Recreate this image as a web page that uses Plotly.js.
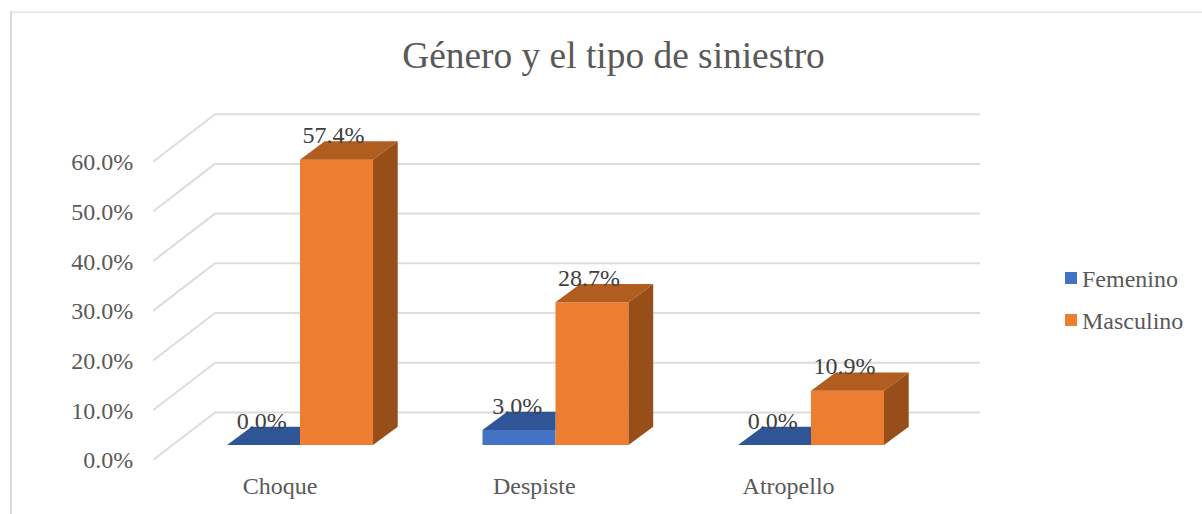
<!DOCTYPE html>
<html><head><meta charset="utf-8">
<script src="https://cdn.plot.ly/plotly-3.0.1.min.js"></script>
<style>html,body{margin:0;padding:0;background:#fff}#c{width:1202px;height:514px}
.legendsymbols{transform:translateX(9px)}</style>
</head><body><div id="c"></div>
<script>
const categories = ["Choque", "Despiste", "Atropello"];
const femenino = [0.0, 3.0, 0.0];
const masculino = [57.4, 28.7, 10.9];
const yTicks = [0, 10, 20, 30, 40, 50, 60];
const chartTitle = "Género y el tipo de siniestro";

// pseudo-3D geometry, in axis units
const barW = 0.2857, baseY = 3.02, depthX = 0.0967, depthY = 3.68;
const wallX = 0.2427, wallY = 9.56;
const xMin = -0.5753, xMax = 2.6614, yMax = 70;
const serif = "Liberation Serif, Times New Roman, serif";
const L = 153, R = 980, T = 112.3, B = 460;
const px = v => (v - L) / (R - L), py = v => (B - v) / (B - T);

const idx = categories.map((_, i) => i);
function topFace(x0, x1, v, clip) {
  const y = baseY + v;
  return clip
    ? [[x0, y], [x1, y], [x1, y + depthY], [x0 + depthX, y + depthY], [x0, y], [null, null]]
    : [[x0, y], [x1, y], [x1 + depthX, y + depthY], [x0 + depthX, y + depthY], [x0, y], [null, null]];
}
function sideFace(x1, v) {
  const y = baseY + v;
  return [[x1, baseY], [x1 + depthX, baseY + depthY], [x1 + depthX, y + depthY], [x1, y], [x1, baseY], [null, null]];
}
function polyTrace(pts, color) {
  return {type: "scatter", mode: "lines", x: pts.map(p => p[0]), y: pts.map(p => p[1]),
    fill: "toself", fillcolor: color, line: {width: 0, color: color}, showlegend: false, hoverinfo: "skip"};
}
const femTop = idx.flatMap(i => topFace(i - barW, i, femenino[i], true));
const mascTop = idx.flatMap(i => topFace(i, i + barW, masculino[i], false));
const mascSide = idx.flatMap(i => sideFace(i + barW, masculino[i]));

const fmt = v => v.toFixed(1) + "%";
function labelTrace(vals, off) {
  return {type: "scatter", mode: "text", x: idx.map(i => i + off), y: vals.map(v => baseY + v + 4.5),
    text: vals.map(fmt), textposition: "middle center",
    textfont: {family: serif, size: 24, color: "#404040"}, showlegend: false, hoverinfo: "skip"};
}
function barTrace(name, vals, color) {
  return {type: "bar", name: name, legendgroup: name, x: idx, y: vals, base: idx.map(() => baseY),
    marker: {color: color, line: {width: 0}}};
}
const traces = [
  barTrace("Femenino", femenino, "#4472C4"),
  barTrace("Masculino", masculino, "#ED7D31"),
  polyTrace(femTop, "#2F5597"),
  polyTrace(mascSide, "#974E19"),
  polyTrace(mascTop, "#B25D20"),
  labelTrace(femenino, -barW / 2 - 0.007),
  labelTrace(masculino, barW / 2 - 0.012)
];

const gridLine = {color: "#DCDCDC", width: 2};
const gridShapes = yTicks.flatMap(v => [
  {type: "line", layer: "below", xref: "x", yref: "y", x0: xMin, y0: v, x1: xMin + wallX, y1: v + wallY, line: gridLine},
  {type: "line", layer: "below", xref: "x", yref: "y", x0: xMin + wallX, y0: v + wallY, x1: xMax, y1: v + wallY, line: gridLine}
]);
const frame = [
  {type: "line", xref: "paper", yref: "paper", x0: px(11), x1: px(11), y0: py(11.5), y1: py(514), line: {color: "#D9D9D9", width: 2}},
  {type: "line", xref: "paper", yref: "paper", x0: px(10), x1: px(1202), y0: py(12.5), y1: py(12.5), line: {color: "#D9D9D9", width: 1}}
];

const layout = {
  width: 1202, height: 514, paper_bgcolor: "#fff", plot_bgcolor: "rgba(0,0,0,0)",
  margin: {l: L, r: 1202 - R, t: T, b: 514 - B, autoexpand: false},
  title: {text: chartTitle, x: 613.5 / 1202, xanchor: "center", y: 1 - 54.5 / 514, yanchor: "middle",
    font: {family: serif, size: 37.4, color: "#595959"}},
  barmode: "group", bargap: 1 - 2 * barW, bargroupgap: 0,
  xaxis: {range: [xMin, xMax], tickmode: "array", tickvals: idx.map(i => i * 0.9951 - 0.078), ticktext: categories,
    showgrid: false, zeroline: false, showline: false, ticks: "outside", ticklen: 4, tickcolor: "rgba(0,0,0,0)",
    tickfont: {family: serif, size: 24, color: "#595959"}, fixedrange: true},
  yaxis: {range: [0, yMax], tickmode: "array", tickvals: yTicks, ticktext: yTicks.map(fmt),
    showgrid: false, zeroline: false, showline: false, ticks: "outside", ticklen: 14, tickcolor: "rgba(0,0,0,0)",
    tickfont: {family: serif, size: 24, color: "#595959"}, fixedrange: true},
  legend: {x: px(1042), xanchor: "left", y: py(256), yanchor: "top", traceorder: "grouped", tracegroupgap: 8,
    bgcolor: "rgba(0,0,0,0)", borderwidth: 0, font: {family: serif, size: 24, color: "#595959"}},
  shapes: gridShapes.concat(frame),
  showlegend: true
};
Plotly.newPlot("c", traces, layout, {displayModeBar: false, responsive: false});
</script></body></html>
